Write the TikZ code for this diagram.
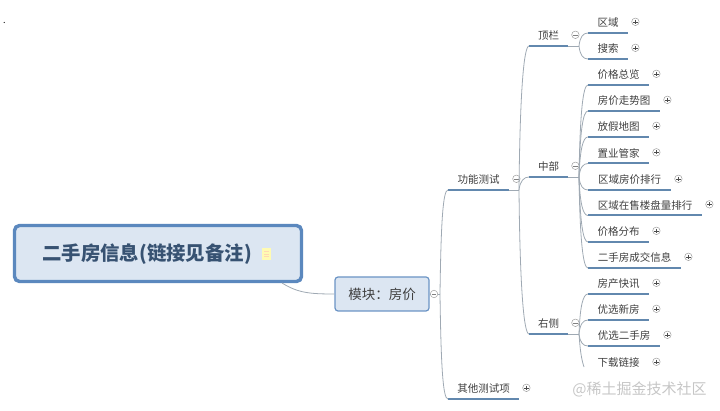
\documentclass[tikz,border=0pt]{standalone}
\usepackage{fontspec}
\setmainfont{Noto Sans CJK SC}
\usetikzlibrary{calc,positioning}
\definecolor{rootblue}{HTML}{5B88BE}
\definecolor{paleblue}{HTML}{DCE6F2}
\definecolor{linkblue}{HTML}{6288AE}
\definecolor{linkgray}{HTML}{9FA9B3}
\definecolor{inkgray}{HTML}{3F3F3F}
\tikzset{
  topic/.style={anchor=south west,inner sep=0pt,minimum height=22pt,text=inkgray,
    text height=10pt,text depth=0pt,font=\fontsize{10.5}{12}\selectfont},
  under/.style={linkblue,line width=2pt},
  branch/.style={linkgray,line width=0.8pt},
  fan/.style={to path={.. controls ($(\tikztostart)!.7!(\tikztostart|-\tikztotarget)+(1,0)$)
    and ($(\tikztotarget)+(-5,0)$) .. (\tikztotarget)}},
  button/.style={circle,draw=gray!75,fill=white,line width=0.5pt,minimum size=7.5pt,inner sep=0pt},
  minusbtn/.style={button,path picture={
    \draw[gray,line width=0.5pt] ($(path picture bounding box.center)+(-2.2,0)$) -- +(4.4,0);}},
  plusbtn/.style={button,path picture={
    \draw[gray!60!black,line width=0.5pt] ($(path picture bounding box.center)+(-2.2,0)$) -- +(4.4,0);
    \draw[gray!60!black,line width=0.5pt] ($(path picture bounding box.center)+(0,-2.2)$) -- +(0,4.4);}}
}
\begin{document}
\begin{tikzpicture}[x=1pt,y=-1pt]
  \useasboundingbox (0,0) rectangle (720,411);
  \node[text=black,font=\fontsize{9}{10}\selectfont] (dot) at (4.5,23) {.};
  % Root and module
  \node[draw=rootblue,fill=paleblue,line width=3.4pt,rounded corners=5pt,minimum width=287pt,
    minimum height=56pt,inner sep=0pt] (root) at (158,253.5) {};
  \node[text=rootblue!60!black,font=\fontsize{19.4}{24}\bfseries\selectfont] (title) at (147,254)
    {二手房信息(链接见备注)};
  \node[draw=none,fill=yellow!30,minimum width=9pt,minimum height=12pt,inner sep=0pt,
    right=7pt of title] (memo) {};
  \foreach \y in {-2.5,0,2.5}
    \draw[orange!30,line width=0.5pt] ($(memo.center)+(-2.5,\y)$) -- +(5,0);
  \node[draw=rootblue!90,fill=paleblue,line width=1.2pt,rounded corners=3pt,minimum width=94pt,
    minimum height=34pt,inner sep=0pt,text=inkgray,font=\fontsize{13.5}{16}\selectfont]
    (module) at (382,294) {模块：房价};
  \coordinate (rootout) at (282,283);
  \draw[branch] (rootout) .. controls (298,293) and (310,294) .. (module.west);
  \node[minusbtn] (modulebtn) at (434,294) {};
  \draw[branch] (module.east) -- (modulebtn.west);
  \coordinate (modulejoin) at (440,294);
  \draw[branch] (modulebtn.east) -- (modulejoin);
  % Second level
  \node[topic,minimum width=61pt] (func) at (448,190) {功能测试};
  \node[topic,minimum width=71pt] (other) at (448,399) {其他测试项};
  \draw[under] (func.south west) -- (func.south east);
  \draw[under] (other.south west) -- (other.south east);
  \node[minusbtn,right=3pt of func] (funcbtn) {};
  \node[plusbtn,right=3pt of other] (otherbtn) {};
  \draw[branch] (modulejoin) to[fan] (func.south west);
  \draw[branch] (modulejoin) to[fan] (other.south west);
  % Third level
  \coordinate (funcjoin) at (519,190);
  \draw[branch] (func.south east) -- (funcjoin);
  \foreach \part/\lab/\y in {top/顶栏/46,mid/中部/177,right/右侧/334} {
    \node[topic,minimum width=39pt] (\part) at (529,\y) {\lab};
    \draw[under] (\part.south west) -- (\part.south east);
    \node[minusbtn,right=3pt of \part] (\part btn) {};
    \coordinate (\part join) at (579,\y);
    \draw[branch] (\part.south east) -- (\part join);
    \draw[branch] (funcjoin) to[fan] (\part.south west);
  }
  % Leaves
  \foreach \leaf/\lab/\wid/\y/\part in {
    area/区域/40/33/top,search/搜索/40/59/top,
    overview/价格总览/61/85/mid,trend/房价走势图/72/111/mid,
    holiday/放假地图/61/137/mid,agent/置业管家/61/163.5/mid,
    rank/区域房价排行/83/190/mid,sale/区域在售楼盘量排行/114/215.5/mid,
    spread/价格分布/61/242/mid,deal/二手房成交信息/93/268/mid,
    news/房产快讯/61/294/right,newhome/优选新房/61/320/right,
    oldhome/优选二手房/72/346/right} {
    \node[topic,minimum width=\wid pt] (\leaf) at (588,\y) {\lab};
    \draw[under] (\leaf.south west) -- (\leaf.south east);
    \node[plusbtn,right=3pt of \leaf] (\leaf btn) {};
    \draw[branch] (\part join) to[fan] (\leaf.south west);
  }
  % Last leaf has no line
  \node[topic,minimum width=61pt] (download) at (588,373) {下载链接};
  \node[plusbtn,right=3pt of download] (downloadbtn) {};
  \coordinate (downloadend) at (584,367);
  \draw[branch] (rightjoin) .. controls (580,348) and (581,358) .. (downloadend);
  % Watermark
  \node[text=gray!45,font=\fontsize{15}{18}\selectfont] (mark) at (639.5,389) {@稀土掘金技术社区};
\end{tikzpicture}
\end{document}
